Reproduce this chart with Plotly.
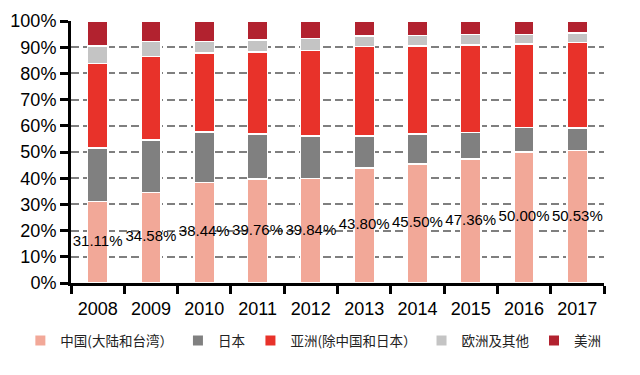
import plotly.graph_objects as go

years = ["2008", "2009", "2010", "2011", "2012", "2013", "2014", "2015", "2016", "2017"]
china = [31.11, 34.58, 38.44, 39.76, 39.84, 43.80, 45.50, 47.36, 50.00, 50.53]
japan = [20.5, 20.0, 19.2, 17.1, 16.3, 12.3, 11.4, 10.0, 9.4, 8.7]
asia = [32.2, 31.8, 30.1, 31.3, 32.6, 34.1, 33.6, 33.5, 31.8, 32.5]
europe = [6.7, 5.8, 4.4, 4.5, 4.5, 4.1, 4.0, 3.9, 3.6, 3.6]
americas = [100 - a - b - c - d for a, b, c, d in zip(china, japan, asia, europe)]
china_labels = [f"{v:.2f}%" for v in china]

series = [
    ("中国(大陆和台湾）", china, "#F2A898"),
    ("日本", japan, "#808080"),
    ("亚洲(除中国和日本）", asia, "#E8322A"),
    ("欧洲及其他", europe, "#C4C4C4"),
    ("美洲", americas, "#B2222F"),
]

FONT = "Liberation Sans, Arial, Helvetica, sans-serif"
CJK = "Noto Sans CJK SC, sans-serif"

fig = go.Figure()
for name, vals, color in series:
    fig.add_trace(go.Bar(
        x=years, y=vals, name=name,
        marker=dict(color=color, line=dict(color="white", width=1.5)),
        width=0.38,
        hoverinfo="y+name",
    ))

fig.add_trace(go.Scatter(
    x=years, y=[v / 2 for v in china], mode="text",
    text=china_labels, textposition="middle center",
    textfont=dict(family=FONT, size=15, color="black"),
    showlegend=False, hoverinfo="skip",
))

fig.update_layout(
    barmode="stack",
    width=640, height=375,
    margin=dict(l=63, r=44, t=13, b=100, autoexpand=False),
    plot_bgcolor="white", paper_bgcolor="white",
    font=dict(family=FONT, size=18, color="black"),
    showlegend=True,
    legend=dict(
        orientation="h", traceorder="normal",
        x=-0.095, y=-0.22, xanchor="left", yanchor="middle",
        font=dict(family=CJK, size=13.5, color="#222222"),
        itemwidth=30, itemsizing="constant",
    ),
    xaxis=dict(
        type="category", showline=True, linecolor="black", linewidth=3,
        ticks="outside", tickson="boundaries", ticklen=8, tickwidth=3,
        tickcolor="black", ticklabelstandoff=7, showgrid=False,
        tickfont=dict(family=FONT, size=18, color="black"),
    ),
    yaxis=dict(
        range=[0, 100], dtick=10, ticksuffix="%",
        showline=True, linecolor="black", linewidth=3,
        ticks="outside", ticklen=8, tickwidth=3, tickcolor="black",
        showgrid=True, gridcolor="#7F7F7F", gridwidth=2, griddash="8px,4px",
        zeroline=False,
        tickfont=dict(family=FONT, size=18, color="black"),
    ),
)

fig.write_html("out.html")
